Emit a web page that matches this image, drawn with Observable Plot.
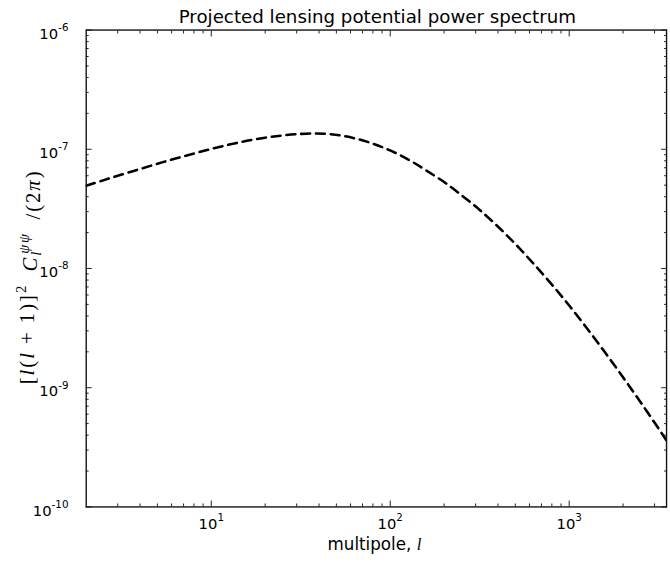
<!DOCTYPE html>
<html><head><meta charset="utf-8">
<script src="https://cdn.jsdelivr.net/npm/d3@7"></script>
<script src="https://cdn.jsdelivr.net/npm/@observablehq/plot@0.6"></script>
<style>
html,body{margin:0;padding:0;overflow:hidden;background:#fff;}
</style></head><body><div id="chart"></div>
<script>
// ---- data ----
const multipole = [2, 2.51, 3.16, 3.98, 5.01, 6.31, 7.94, 10, 12.6, 15.8, 20, 25.1, 31.6, 38, 45.7, 55, 66.1, 79.4, 93.3, 110, 132, 158, 200, 251, 316, 398, 501, 631, 794, 1000, 1259, 1585, 1995, 2512, 3162, 3500];
const potential = [4.94e-8, 5.51e-8, 6.14e-8, 6.82e-8, 7.57e-8, 8.36e-8, 9.18e-8, 1.007e-7, 1.094e-7, 1.178e-7, 1.25e-7, 1.306e-7, 1.346e-7, 1.358e-7, 1.34e-7, 1.291e-7, 1.216e-7, 1.119e-7, 1.021e-7, 9.14e-8, 7.89e-8, 6.68e-8, 5.31e-8, 4.1e-8, 3.1e-8, 2.26e-8, 1.6e-8, 1.1e-8, 7.43e-9, 4.89e-9, 3.14e-9, 1.98e-9, 1.23e-9, 7.52e-10, 4.53e-10, 3.61e-10];
const xMajor = [10, 100, 1000];
const xMinor = [3, 4, 5, 6, 7, 8, 9, 20, 30, 40, 50, 60, 70, 80, 90, 200, 300, 400, 500, 600, 700, 800, 900, 2000, 3000];
const yMajor = [1e-10, 1e-9, 1e-8, 1e-7, 1e-6];
const yMinor = [];
[1e-10, 1e-9, 1e-8, 1e-7].forEach(d => [2,3,4,5,6,7,8,9].forEach(k => yMinor.push(k * d)));
const titleText = "Projected lensing potential power spectrum";

const data = multipole.map((l, i) => ({l, c: potential[i]}));
const fmt = d => "10^" + Math.round(Math.log10(d));

const plot = Plot.plot({
  width: 680, height: 563,
  marginLeft: 87, marginRight: 4, marginTop: 30, marginBottom: 49,
  style: {fontFamily: "DejaVu Sans", fontSize: "15px", color: "black", background: "white", overflow: "visible"},
  x: {type: "log", domain: [2, 3500]},
  y: {type: "log", domain: [1e-10, 1e-6]},
  marks: [
    Plot.line(data, {x: "l", y: "c", stroke: "black", strokeWidth: 2.6, strokeDasharray: "9,6", curve: "catmull-rom", clip: true}),
    Plot.axisX(xMajor, {anchor: "bottom", tickSize: -6, fill: "none", stroke: "#222", label: null}),
    Plot.axisX(xMinor, {anchor: "bottom", tickSize: -3, fill: "none", stroke: "#222", label: null}),
    Plot.axisX(xMajor, {anchor: "top", tickSize: -6, fill: "none", stroke: "#222", label: null}),
    Plot.axisX(xMinor, {anchor: "top", tickSize: -3, fill: "none", stroke: "#222", label: null}),
    Plot.axisY(yMajor, {anchor: "left", tickSize: -6, fill: "none", stroke: "#222", label: null}),
    Plot.axisY(yMinor, {anchor: "left", tickSize: -3, fill: "none", stroke: "#222", label: null}),
    Plot.axisY(yMajor, {anchor: "right", tickSize: -6, fill: "none", stroke: "#222", label: null}),
    Plot.axisY(yMinor, {anchor: "right", tickSize: -3, fill: "none", stroke: "#222", label: null}),
    Plot.text(xMajor, {x: d => d, frameAnchor: "bottom", dy: 22, text: fmt, fontSize: 15, fill: "black"}),
    Plot.text(yMajor, {y: d => d, frameAnchor: "left", dx: -18, dy: 4, textAnchor: "end", text: fmt, fontSize: 15, fill: "black"}),
    Plot.frame({stroke: "#111", strokeWidth: 1.4})
  ]
});
document.getElementById("chart").appendChild(plot);

const svg = d3.select(plot);
// superscript tick labels
svg.selectAll("text").each(function() {
  const t = this.textContent;
  if (!/^10\^-?\d+$/.test(t)) return;
  const [b, e] = t.split("^");
  const sel = d3.select(this);
  sel.text(null);
  sel.append("tspan").text(b);
  sel.append("tspan").attr("font-size", 10.5).attr("dy", "-0.75em").text(e);
});

// title
svg.append("text").attr("x", 383).attr("y", 23).attr("text-anchor", "middle")
  .attr("font-family", "DejaVu Sans").attr("font-size", 18.5).attr("fill", "black").text(titleText);

// x label
const xl = svg.append("text").attr("x", 380).attr("y", 558).attr("text-anchor", "middle")
  .attr("font-family", "DejaVu Sans").attr("font-size", 17).attr("fill", "black");
xl.append("tspan").text("multipole, ");
xl.append("tspan").attr("font-family", "Liberation Serif, DejaVu Serif, serif").attr("font-style", "italic").text("l");

// y label
const serif = "Liberation Serif, DejaVu Serif, serif";
const yl = svg.append("text").attr("transform", "translate(34,282) rotate(-90)").attr("text-anchor", "middle")
  .attr("font-family", serif).attr("font-size", 21).attr("fill", "black");
const add = (s, opts = {}) => {
  const ts = yl.append("tspan").text(s);
  if (opts.i) ts.attr("font-style", "italic");
  if (opts.size) ts.attr("font-size", opts.size);
  if (opts.dy) ts.attr("dy", opts.dy);
  if (opts.dx) ts.attr("dx", opts.dx);
  return ts;
};
add("[");
add("l", {i: true});
add("(");
add("l", {i: true});
add("\u2005+\u20051)]");
add("2", {size: "70%", dy: "-0.55em"});
add("\u2002", {dy: "0.55em"});
add("C", {i: true});
const sub = add("l", {i: true, size: "70%", dy: "0.3em"});
const subLen = sub.node().getComputedTextLength();
add("ψψ", {i: true, size: "70%", dy: "-0.85em", dx: -subLen});
add("\u2002/(2", {dy: "0.55em"});
add("π", {i: true});
add(")");
const ylen = yl.node().getComputedTextLength();
if (ylen < 216) yl.attr("textLength", 216).attr("lengthAdjust", "spacing");
</script></body></html>
